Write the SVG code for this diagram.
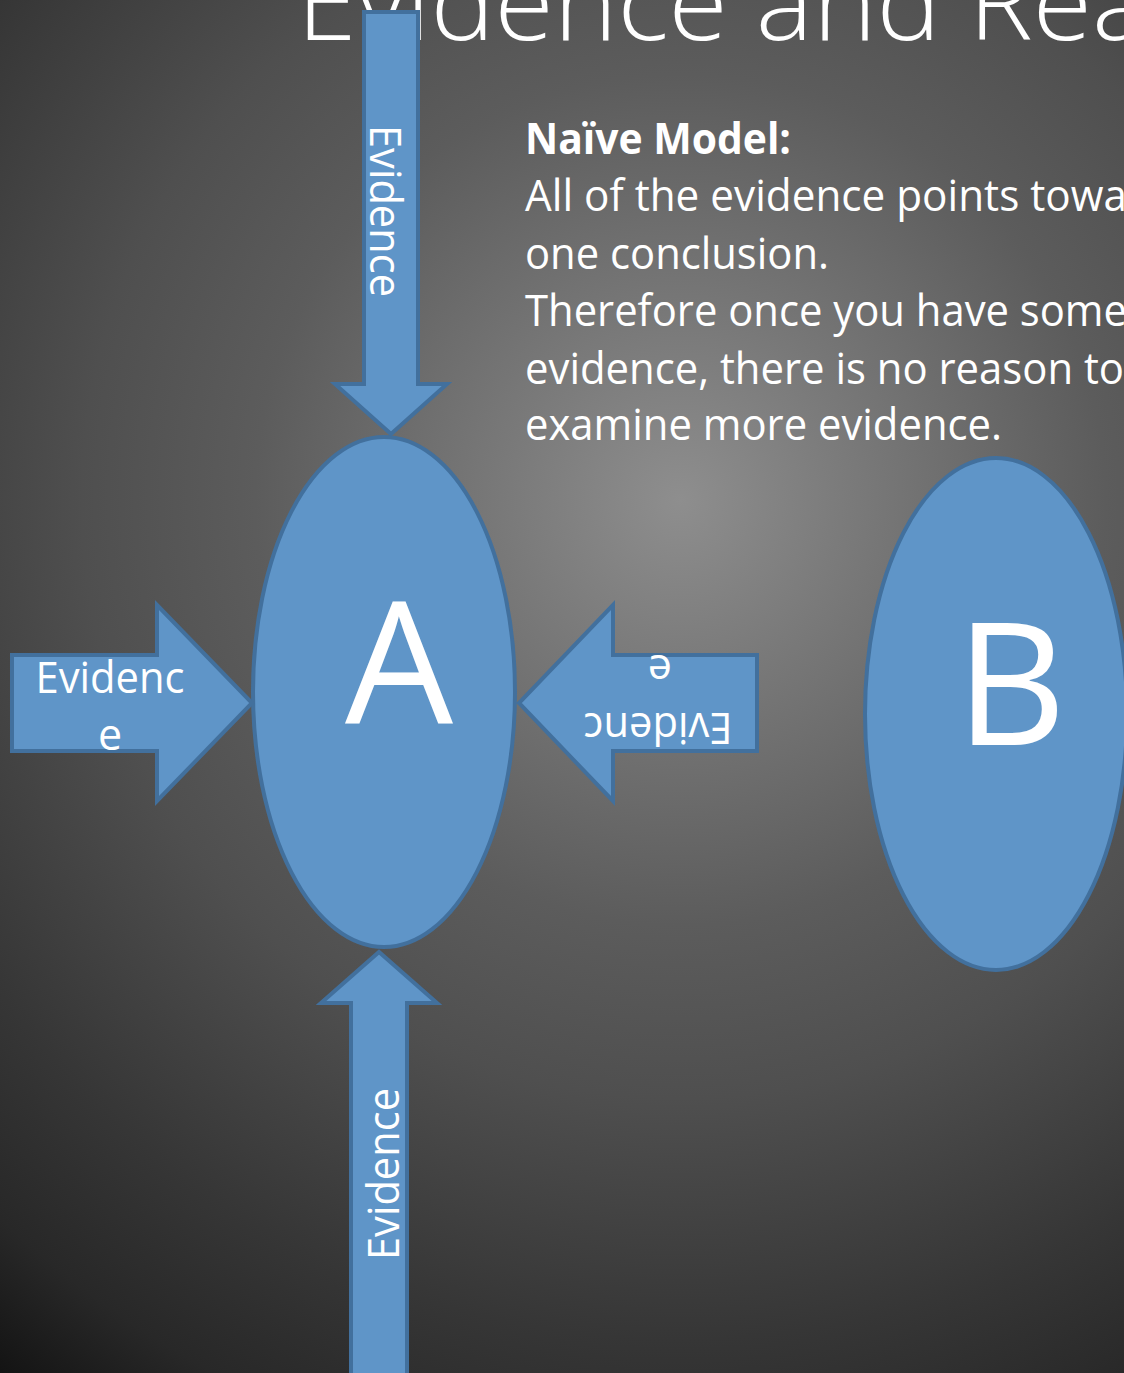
<svg xmlns="http://www.w3.org/2000/svg" width="1124" height="1373" viewBox="0 0 1124 1373">
  <defs>
    <radialGradient id="bg" gradientUnits="userSpaceOnUse" cx="680" cy="500" r="1150">
      <stop offset="0" stop-color="#8e8e8e"/>
      <stop offset="0.37" stop-color="#5c5c5c"/>
      <stop offset="0.52" stop-color="#4f4f4f"/>
      <stop offset="0.73" stop-color="#363636"/>
      <stop offset="0.86" stop-color="#282828"/>
      <stop offset="1" stop-color="#0c0c0c"/>
    </radialGradient>
  </defs>
  <style>
    .shape { fill: #5f95c8; stroke: #42709d; stroke-width: 4; stroke-linejoin: miter; }
    .txt { fill: #ffffff; font-family: "Open Sans", "Liberation Sans", sans-serif; }
    .lbl { font-size: 43px; }
    .body { font-size: 43px; }
    .big { font-size: 171px; }
  </style>
  <rect x="0" y="0" width="1124" height="1373" fill="url(#bg)"/>

  <g id="title">
    <text class="txt" x="297" y="40" font-size="106" font-weight="300" textLength="852" lengthAdjust="spacingAndGlyphs">Evidence and Rea</text>
  </g>

  <g id="text-body">
    <text class="txt body" x="525" y="154" font-weight="bold" textLength="266" lengthAdjust="spacingAndGlyphs">Naïve Model:</text>
    <text class="txt body" x="525" y="211" textLength="602" lengthAdjust="spacingAndGlyphs">All of the evidence points towa</text>
    <text class="txt body" x="525" y="269" textLength="304" lengthAdjust="spacingAndGlyphs">one conclusion.</text>
    <text class="txt body" x="525" y="326" textLength="602" lengthAdjust="spacingAndGlyphs">Therefore once you have some</text>
    <text class="txt body" x="525" y="384" textLength="599" lengthAdjust="spacingAndGlyphs">evidence, there is no reason to</text>
    <text class="txt body" x="525" y="440" textLength="477" lengthAdjust="spacingAndGlyphs">examine more evidence.</text>
  </g>

  <g id="node-A">
    <ellipse class="shape" cx="384" cy="692" rx="131" ry="255"/>
    <text class="txt big" x="399" y="724" text-anchor="middle">A</text>
  </g>

  <g id="node-B">
    <ellipse class="shape" cx="996" cy="714" rx="131" ry="256"/>
    <text class="txt big" x="1011" y="745" text-anchor="middle" font-size="168">B</text>
  </g>

  <g id="connectors">
    <g id="arrow-top">
      <polygon class="shape" points="364,12 418,12 418,384 447,384 391,434 335,384 364,384"/>
      <text class="txt lbl" transform="translate(370,211) rotate(90)" text-anchor="middle" textLength="172" lengthAdjust="spacingAndGlyphs">Evidence</text>
    </g>
    <g id="arrow-left">
      <polygon class="shape" points="12,655 157,655 157,605 252,703 157,801 157,751 12,751"/>
      <text class="txt lbl" x="110" y="693" text-anchor="middle" textLength="149" lengthAdjust="spacingAndGlyphs">Evidenc</text>
      <text class="txt lbl" x="110" y="750" text-anchor="middle">e</text>
    </g>
    <g id="arrow-right">
      <polygon class="shape" points="757,655 613,655 613,605 519,703 613,801 613,751 757,751"/>
      <text class="txt lbl" transform="translate(658,713) rotate(180)" text-anchor="middle" textLength="149" lengthAdjust="spacingAndGlyphs">Evidenc</text>
      <text class="txt lbl" transform="translate(660,655) rotate(180)" text-anchor="middle">e</text>
    </g>
    <g id="arrow-bottom">
      <polygon class="shape" points="351,1400 351,1003 321,1003 379,952 437,1003 407,1003 407,1400"/>
      <text class="txt lbl" transform="translate(399,1174) rotate(-90)" text-anchor="middle" textLength="172" lengthAdjust="spacingAndGlyphs">Evidence</text>
    </g>
  </g>
</svg>
